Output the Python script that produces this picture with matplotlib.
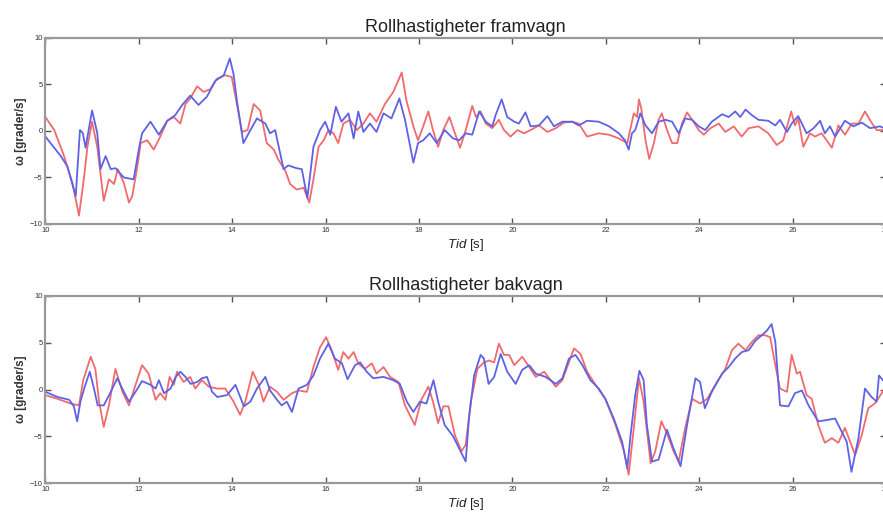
import numpy as np
import matplotlib.pyplot as plt

plt.rcParams['font.family'] = ['Liberation Sans', 'DejaVu Sans']
plt.rcParams['mathtext.fontset'] = 'custom'
plt.rcParams['mathtext.it'] = 'Liberation Sans:italic'
plt.rcParams['mathtext.rm'] = 'Liberation Sans'

# Rollhastighet framvagn (grader/s)
t_fram_bla = [10.0, 10.33, 10.47, 10.65, 10.74, 10.8, 10.86, 11.0, 11.11, 11.18, 11.29, 11.4, 11.5, 11.68,
              11.89, 12.0, 12.07, 12.25, 12.43, 12.61, 12.78, 12.93, 13.1, 13.28, 13.46, 13.64, 13.82,
              13.95, 14.03, 14.1, 14.24, 14.39, 14.53, 14.71, 14.81, 14.92, 15.1, 15.2, 15.38, 15.49,
              15.61, 15.74, 15.88, 15.99, 16.1, 16.22, 16.34, 16.49, 16.6, 16.7, 16.81, 16.95, 17.09,
              17.24, 17.41, 17.58, 17.7, 17.88, 17.98, 18.09, 18.23, 18.38, 18.55, 18.73, 18.86,
              19.0, 19.14, 19.29, 19.43, 19.57, 19.64, 19.77, 19.89, 20.04, 20.14, 20.28, 20.39, 20.57,
              20.75, 20.89, 21.07, 21.28, 21.42, 21.6, 21.85, 22.07, 22.28, 22.41, 22.49, 22.56, 22.63,
              22.74, 22.85, 22.99, 23.13, 23.28, 23.42, 23.56, 23.7, 23.85, 23.99, 24.13, 24.27, 24.49,
              24.63, 24.77, 24.88, 24.99, 25.13, 25.27, 25.48, 25.63, 25.73, 25.88, 25.98, 26.12, 26.3,
              26.45, 26.59, 26.69, 26.8, 26.91, 27.12, 27.3, 27.48, 27.66, 27.87, 28.0]
w_fram_bla = [-0.6, -2.7, -3.8, -7.0, 0.1, -0.2, -1.8, 2.2, -0.2, -4.1, -2.7, -4.1, -4.0, -5.0,
              -5.2, -2.0, -0.25, 1.0, -0.4, 1.1, 1.7, 2.8, 3.8, 2.8, 3.7, 5.4, 6.0,
              7.8, 6.1, 3.3, -1.3, 0.1, 1.35, 0.8, -0.25, 0.1, -4.1, -3.7, -4.0, -4.1,
              -7.2, -1.7, 0.1, 1.0, -0.4, 2.6, 1.0, 1.9, -0.8, 2.1, -0.1, 0.8, -0.1,
              1.9, 1.35, 3.5, 1.2, -3.4, -1.3, -1.0, -0.25, -1.3, 0.1, -0.8, -1.0,
              -0.25, -0.4, 2.1, 1.0, 0.5, 1.7, 3.4, 1.5, 1.0, 0.8, 2.0, 0.5, 0.6,
              1.6, 0.5, 1.0, 1.0, 0.6, 1.1, 1.0, 0.5, -0.25, -1.0, -2.0, -0.25, 0.1,
              1.9, 0.6, -0.25, 1.0, 1.2, 1.0, -0.25, 1.35, 1.2, 0.5, 0.1, 1.0, 1.8,
              1.5, 2.1, 1.5, 2.3, 1.7, 1.2, 1.1, 0.6, 1.2, -0.1, 0.8, 1.6, -0.25,
              0.3, 1.1, -0.25, 0.5, -0.6, 1.1, 0.5, 0.9, 0.3, 0.5, 0.2]

t_fram_rod = [10.0, 10.19, 10.4, 10.58, 10.72, 10.83, 10.9, 11.0, 11.11, 11.25, 11.36, 11.47, 11.55,
              11.68, 11.79, 11.86, 11.97, 12.04, 12.18, 12.32, 12.46, 12.61, 12.75, 12.89, 13.0, 13.1,
              13.25, 13.39, 13.53, 13.67, 13.85, 13.99, 14.1, 14.21, 14.33, 14.46, 14.6, 14.74, 14.89,
              14.99, 15.14, 15.24, 15.38, 15.53, 15.65, 15.74, 15.85, 15.96, 16.06, 16.17, 16.27,
              16.38, 16.52, 16.67, 16.81, 16.95, 17.09, 17.27, 17.45, 17.63, 17.73, 17.88, 17.98,
              18.09, 18.2, 18.3, 18.41, 18.52, 18.65, 18.77, 18.88,
              19.0, 19.14, 19.22, 19.32, 19.43, 19.57, 19.71, 19.82, 19.96, 20.11, 20.25, 20.39, 20.57,
              20.75, 20.93, 21.1, 21.28, 21.42, 21.6, 21.85, 22.07, 22.28, 22.46, 22.53, 22.6, 22.67,
              22.71, 22.76, 22.85, 22.93, 23.03, 23.13, 23.2, 23.31, 23.42, 23.53, 23.63, 23.74, 23.85,
              23.99, 24.1, 24.24, 24.42, 24.56, 24.74, 24.91, 25.06, 25.27, 25.48, 25.66, 25.8, 25.97,
              26.05, 26.12, 26.23, 26.37, 26.48, 26.62, 26.73, 26.84, 26.98, 27.12, 27.27, 27.41,
              27.55, 27.69, 27.8, 28.0]
w_fram_rod = [1.5, 0.1, -2.7, -5.6, -9.1, -4.9, -1.7, 1.0, -1.7, -7.5, -5.2, -5.7, -4.1,
              -5.6, -7.7, -7.0, -3.8, -1.3, -1.0, -2.0, -0.6, 1.1, 1.5, 0.8, 2.9, 3.5,
              4.8, 4.2, 4.5, 5.6, 6.0, 5.8, 2.9, -0.1, 0.1, 2.9, 2.2, -1.3, -2.0,
              -3.1, -4.3, -5.7, -6.3, -6.1, -7.7, -5.2, -1.7, -1.0, 0.1, -0.25, -1.3,
              0.8, 1.2, 0.1, 0.8, 1.9, 1.0, 2.9, 4.2, 6.3, 3.3, 0.5, -1.0,
              0.5, 2.1, 0.1, -1.7, 0.1, 1.5, -0.25, -1.8,
              0.1, 2.7, 1.5, 2.1, 0.8, 0.3, 1.2, 0.1, -0.6, 0.1, -0.25, 0.1, 0.6,
              -0.1, 0.3, 0.9, 1.0, 0.8, -0.6, -0.25, -0.4, -0.8, -1.3, 0.3, 1.9, 1.5,
              3.4, 2.4, -1.0, -3.0, -1.3, 1.2, 1.9, 0.1, -1.3, -1.3, 0.8, 2.0, 1.2,
              0.1, -0.4, 0.3, 0.8, -0.1, 0.5, -0.6, 0.3, 0.5, -0.25, -1.5, -1.0, 2.1,
              0.6, 1.35, -1.7, -0.25, -0.6, -0.25, -1.0, -1.8, 0.6, -0.4, 0.8, 0.8,
              2.1, 0.9, 0.1, 0.1]

# Rollhastighet bakvagn (grader/s)
t_bak_bla = [10.0, 10.26, 10.51, 10.61, 10.68, 10.75, 10.83, 10.95, 11.04, 11.12, 11.25, 11.4, 11.54,
             11.68, 11.79, 11.93, 12.07, 12.25, 12.36, 12.43, 12.54, 12.68, 12.79, 12.89, 13.0, 13.11,
             13.25, 13.35, 13.46, 13.57, 13.68, 13.89, 14.07, 14.25, 14.39, 14.53, 14.71, 14.81, 14.96,
             15.06, 15.17, 15.28, 15.42, 15.6, 15.74, 15.88, 16.06, 16.2, 16.35, 16.47, 16.63, 16.74,
             16.88, 17.02, 17.24, 17.45, 17.59, 17.74, 17.88, 18.02, 18.16, 18.31, 18.41, 18.55,
             18.73, 18.86, 19.0, 19.07, 19.18, 19.32, 19.39, 19.49, 19.61, 19.75, 19.89, 20.07, 20.21,
             20.36, 20.5, 20.71, 20.93, 21.07, 21.21, 21.35, 21.5, 21.67, 21.85, 21.99, 22.17, 22.35,
             22.46, 22.53, 22.63, 22.72, 22.81, 22.88, 22.99, 23.13, 23.31, 23.45, 23.6, 23.74, 23.92,
             24.02, 24.12, 24.27, 24.49, 24.63, 24.77, 24.91, 25.06, 25.2, 25.34, 25.45, 25.55, 25.63,
             25.73, 25.91, 26.05, 26.2, 26.34, 26.55, 26.69, 26.91, 27.05, 27.16, 27.26, 27.41, 27.55,
             27.69, 27.8, 27.85, 28.0]
w_bak_bla = [-0.25, -0.8, -1.1, -1.8, -3.4, -1.3, 0.1, 1.9, 0.1, -1.7, -1.7, -0.25, 1.2,
             -0.25, -1.3, -0.25, 0.9, 0.5, 0.1, 1.0, -0.4, 0.1, 1.35, 1.9, 1.35, 0.6,
             0.8, 1.2, 1.35, -0.25, -0.8, -0.6, 0.5, -1.8, -1.3, 0.1, 1.35, -0.1, -1.1,
             -1.7, -1.3, -2.4, 0.1, 0.5, 1.5, 3.3, 4.9, 3.3, 2.8, 1.1, 2.6, 2.9,
             1.9, 1.2, 1.35, 1.0, 0.6, -1.3, -2.4, -1.3, -1.5, 1.0, -1.3, -3.8,
             -5.0, -6.3, -7.7, -3.1, 1.5, 3.7, 3.3, 0.6, 1.35, 3.8, 1.9, 0.6, 2.1,
             2.6, 1.7, 1.35, 0.6, 1.2, 3.3, 3.7, 2.6, 1.0, 0.1, -1.0, -3.1, -5.6,
             -8.4, -4.9, -0.6, 2.0, 1.0, -3.8, -7.7, -7.5, -4.3, -6.3, -8.2, -3.8, 1.2,
             0.8, -2.0, -0.25, 1.7, 2.4, 3.3, 4.0, 4.2, 5.2, 5.8, 6.3, 7.0, 5.1,
             -1.7, -1.8, -0.4, -0.1, -1.7, -3.4, -3.3, -3.1, -4.5, -5.6, -8.8, -5.2, 0.1,
             -0.8, -1.3, 1.5, 0.6]

t_bak_rod = [10.0, 10.26, 10.54, 10.72, 10.81, 10.97, 11.07, 11.15, 11.25, 11.36, 11.5, 11.65, 11.79,
             11.93, 12.07, 12.21, 12.36, 12.46, 12.57, 12.66, 12.75, 12.82, 12.96, 13.1, 13.21, 13.35,
             13.5, 13.68, 13.85, 14.03, 14.17, 14.28, 14.44, 14.57, 14.67, 14.81, 14.96, 15.1, 15.28,
             15.42, 15.6, 15.74, 15.88, 16.01, 16.13, 16.27, 16.38, 16.49, 16.6, 16.7, 16.84, 16.99,
             17.09, 17.24, 17.38, 17.56, 17.7, 17.91, 18.05, 18.2, 18.3, 18.41, 18.52, 18.63, 18.77,
             18.91, 19.0, 19.11, 19.25, 19.39, 19.5, 19.61, 19.71, 19.82, 19.93, 20.04, 20.21, 20.36,
             20.5, 20.68, 20.93, 21.07, 21.21, 21.32, 21.46, 21.6, 21.78, 21.99, 22.21, 22.39, 22.49,
             22.6, 22.71, 22.81, 22.96, 23.06, 23.19, 23.31, 23.45, 23.56, 23.7, 23.85, 24.02, 24.17,
             24.38, 24.56, 24.7, 24.84, 24.99, 25.13, 25.27, 25.41, 25.52, 25.63, 25.73, 25.88, 25.98,
             26.09, 26.16, 26.3, 26.41, 26.55, 26.69, 26.84, 26.98, 27.12, 27.34, 27.48, 27.62,
             27.76, 28.0]
w_bak_rod = [-0.6, -1.0, -1.5, -1.7, 1.0, 3.5, 2.2, -1.3, -4.0, -1.7, 2.2, -0.25, -1.7,
             0.5, 2.6, 1.7, -1.1, -0.4, -1.1, 1.35, 0.5, 1.9, 0.8, 1.35, 0.1, 1.0,
             0.3, 0.1, 0.1, -1.3, -2.7, -1.3, 1.9, 0.5, -1.3, 0.3, -0.25, -1.1, -0.4,
             -0.1, -0.25, 2.4, 4.5, 5.6, 4.2, 2.1, 4.0, 3.3, 4.0, 2.8, 2.2, 2.8,
             1.7, 2.4, 1.35, 0.8, -1.7, -3.8, -1.1, 0.3, -1.3, -3.6, -1.8, -1.8, -4.9,
             -6.6, -5.9, -1.3, 2.2, 2.9, 3.1, 2.9, 4.9, 3.7, 3.7, 2.6, 3.5, 2.4,
             1.35, 1.9, 0.3, 1.0, 2.9, 4.4, 3.8, 1.9, 0.5, -1.0, -3.8, -6.6, -9.1,
             -4.1, 1.2, -1.3, -7.9, -6.6, -3.4, -4.7, -6.6, -7.7, -4.1, -1.0, -1.5, -1.0,
             0.8, 2.2, 4.2, 4.9, 4.2, 5.1, 5.8, 5.8, 5.6, 2.6, 0.1, -0.25, 3.7,
             1.7, 1.9, -0.6, -1.0, -3.8, -5.7, -5.2, -5.7, -4.1, -7.0, -4.9, -2.0,
             -1.5, 0.3]

x_ticks = np.arange(10, 29, 2)
y_ticks = [-10, -5, 0, 5, 10]
blue = '#5f62e4'
red = '#f06a6e'


def rita_panel(ax, titel, t_bla, w_bla, t_rod, w_rod):
    ax.plot(t_rod, w_rod, color=red, lw=1.3)
    ax.plot(t_bla, w_bla, color=blue, lw=1.3)
    ax.set_xlim(10, 28)
    ax.set_ylim(-10, 10)
    ax.set_xticks(x_ticks)
    ax.set_yticks(y_ticks)
    ax.tick_params(direction='in', top=True, right=True, length=4, width=1,
                   color='#555555', labelsize=5.5, labelcolor='#333333', pad=2)
    for s in ax.spines.values():
        s.set_color('#999999')
        s.set_linewidth(1.6)
    ax.set_title(titel, fontsize=13, pad=4, color='#222222')
    ax.set_xlabel(r'$\mathit{Tid}$ [s]', fontsize=9.5, labelpad=2, color='#222222')
    ax.set_ylabel('ω [grader/s]', fontsize=8.5, labelpad=2, fontweight='bold', color='#333333')


fig = plt.figure(figsize=(8.83, 5.12), dpi=100)
ax1 = fig.add_axes([0.0514, 0.5625, 0.952, 0.3633])
ax2 = fig.add_axes([0.0514, 0.0566, 0.952, 0.3653])

rita_panel(ax1, 'Rollhastigheter framvagn', t_fram_bla, w_fram_bla, t_fram_rod, w_fram_rod)
rita_panel(ax2, 'Rollhastigheter bakvagn', t_bak_bla, w_bak_bla, t_bak_rod, w_bak_rod)

fig.savefig('out.png', dpi=100)
